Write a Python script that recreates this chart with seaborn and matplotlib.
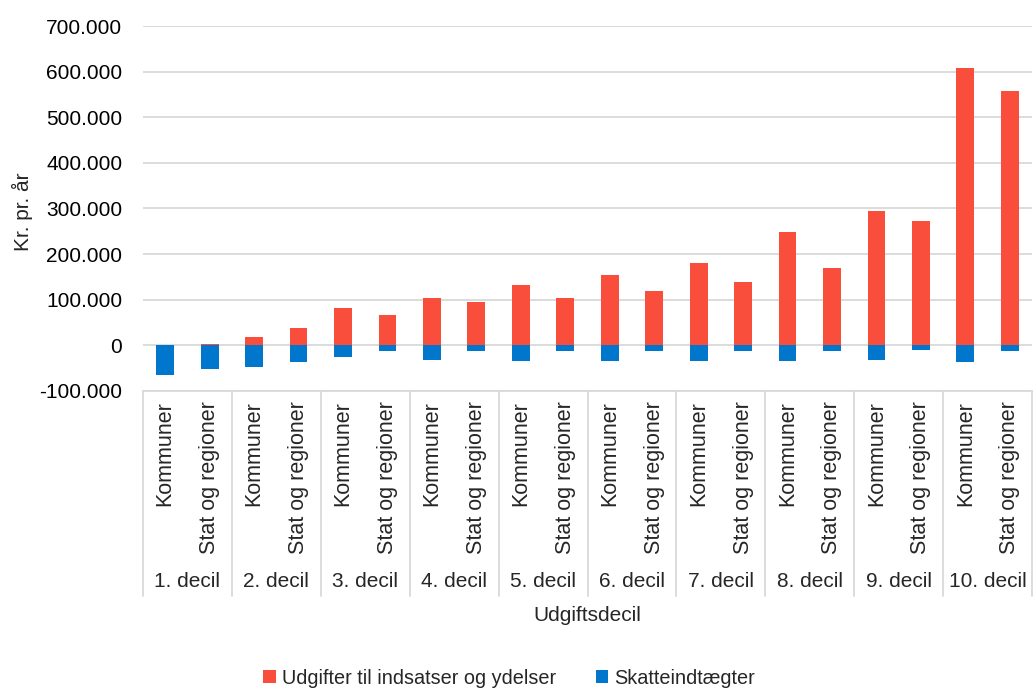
import matplotlib
matplotlib.use("Agg")
import matplotlib.pyplot as plt
import matplotlib.ticker as mticker
import matplotlib.transforms as mtrans
import seaborn as sns
import pandas as pd

deciles = ["1. decil", "2. decil", "3. decil", "4. decil", "5. decil",
           "6. decil", "7. decil", "8. decil", "9. decil", "10. decil"]
sectors = ["Kommuner", "Stat og regioner"]

udgifter_kommuner = [0, 19000, 82000, 104000, 132000, 154000, 180000, 249000, 295000, 607000]
udgifter_stat = [3500, 38500, 67000, 96000, 103000, 120000, 138000, 169000, 273000, 558000]
skat_kommuner = [-65000, -47000, -26000, -33000, -34000, -34000, -34000, -34000, -31000, -36000]
skat_stat = [-51000, -36000, -11500, -13000, -13000, -12000, -12000, -12000, -11000, -13000]

series_names = ["Udgifter til indsatser og ydelser", "Skatteindtægter"]
colors = ["#F94E3B", "#0077CD"]

rows = []
order = []
for i, d in enumerate(deciles):
    for s, uk, sk in ((sectors[0], udgifter_kommuner, skat_kommuner),
                      (sectors[1], udgifter_stat, skat_stat)):
        key = f"{d}|{s}"
        order.append(key)
        rows.append({"pos": key, "serie": series_names[0], "value": uk[i]})
        rows.append({"pos": key, "serie": series_names[1], "value": sk[i]})
df = pd.DataFrame(rows)

sns.set_theme(style="white")
plt.rcParams["font.family"] = ["Liberation Sans", "DejaVu Sans"]
FS_TICK = 15
FS_CAT = 15.5
FS_DEC = 15
FS_LEG = 14.3

fig = plt.figure(figsize=(10.33, 6.89), dpi=100)
ax = fig.add_axes([143 / 1033, 1 - 391 / 689, (1032 - 143) / 1033, (391 - 26) / 689])

sns.barplot(data=df, x="pos", y="value", hue="serie", order=order,
            hue_order=series_names, palette=colors, dodge=False, width=0.4,
            errorbar=None, ax=ax, zorder=3, linewidth=0, saturation=1)

ax.set_ylim(-100000, 700000)
ax.set_xlim(-0.5, len(order) - 0.5)
ax.yaxis.set_major_locator(mticker.MultipleLocator(100000))
ax.yaxis.set_major_formatter(mticker.FuncFormatter(
    lambda v, p: f"{int(round(v)):,}".replace(",", ".")))
ax.grid(axis="y", color="#D9D9D9", linewidth=1.3, zorder=0)
ax.set_axisbelow(True)
for sp in ["top", "right", "left"]:
    ax.spines[sp].set_visible(False)
ax.spines["bottom"].set_color("#D9D9D9")
ax.spines["bottom"].set_linewidth(1.3)
ax.tick_params(axis="y", labelsize=FS_TICK, length=0, pad=15, colors="#000000")
ax.tick_params(axis="x", length=0, labelbottom=False)
ax.set_xlabel("")
ax.set_ylabel("Kr. pr. år", fontsize=FS_TICK)
ax.yaxis.set_label_coords(-0.124, 0.49)

trans = mtrans.blended_transform_factory(ax.transData, ax.transAxes)
# sector labels
for j, key in enumerate(order):
    s = key.split("|")[1]
    ax.text(j, -0.027, s, rotation=90, ha="center", va="top", fontsize=FS_CAT,
            transform=trans, clip_on=False)
# decile labels
for i, d in enumerate(deciles):
    ax.text(2 * i + 0.5, -0.523, d, ha="center", va="center", fontsize=FS_DEC,
            transform=trans, clip_on=False)
# separators
for b in range(len(deciles) + 1):
    xb = 2 * b - 0.5
    ax.plot([xb, xb], [0, -0.5616], color="#D9D9D9", linewidth=1.3,
            transform=trans, clip_on=False)

ax.text(0.5, -0.614, "Udgiftsdecil", ha="center", va="center", fontsize=FS_DEC,
        transform=ax.transAxes)

handles, labels = ax.get_legend_handles_labels()
ax.get_legend().remove()
fig.legend(handles, labels, loc="center", bbox_to_anchor=(509 / 1033, 1 - 678 / 689),
           ncol=2, frameon=False, fontsize=FS_LEG, handlelength=0.65, handleheight=0.65,
           handletextpad=0.3, columnspacing=2.0)

fig.savefig("out.png", dpi=100)
